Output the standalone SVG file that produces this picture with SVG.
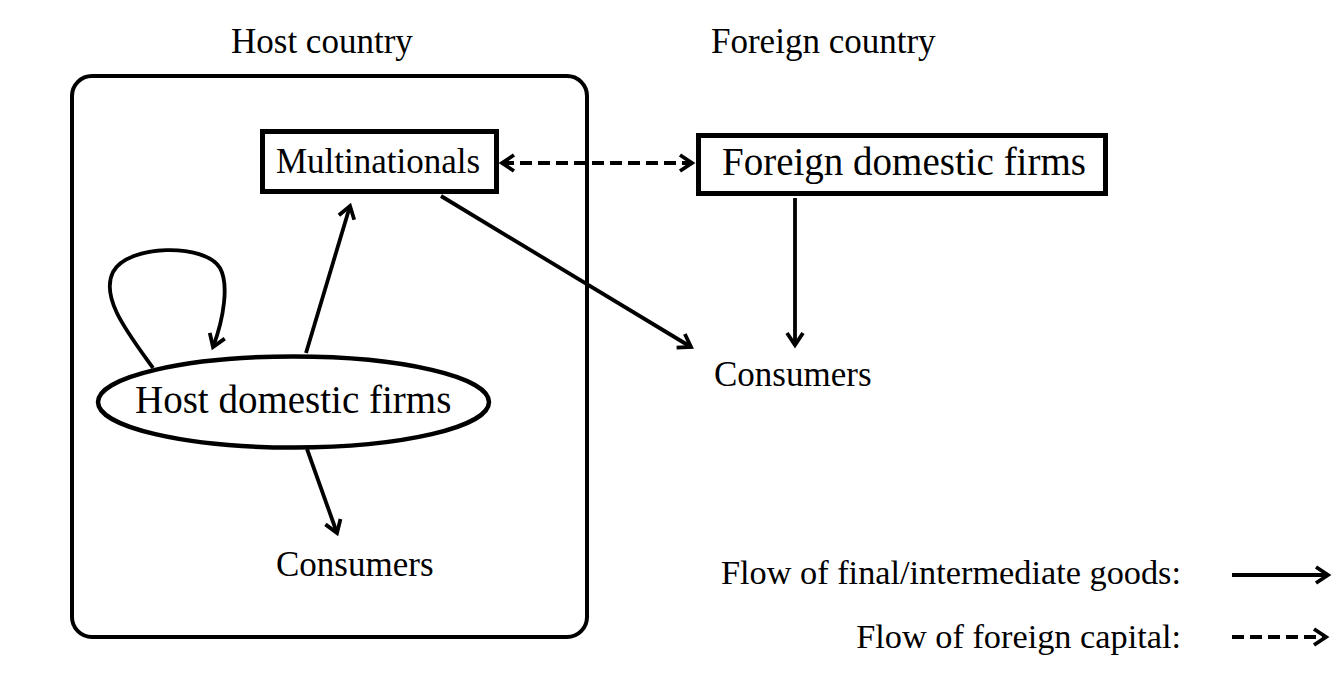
<svg xmlns="http://www.w3.org/2000/svg" width="1342" height="676" viewBox="0 0 1342 676">
<defs>
<style>
text{font-family:"Liberation Serif","Times New Roman",serif;fill:#000}
.t35{font-size:35px}
.t39{font-size:39px}
.leg{font-size:34.3px}
.edge{fill:none;stroke:#000;stroke-width:3.8}
.dash{stroke-dasharray:12 6}
.box{fill:#fff;stroke:#000;stroke-width:5}
</style>
<marker id="ah" viewBox="0 0 20 20" refX="15" refY="10" markerWidth="20" markerHeight="20" markerUnits="userSpaceOnUse" orient="auto-start-reverse">
<path d="M3,2 L15,10 L3,18" fill="none" stroke="#000" stroke-width="3.8" stroke-dasharray="none"/>
</marker>
</defs>
<rect width="1342" height="676" fill="#fff"/>
<g id="host-region">
<rect x="72" y="76" width="515" height="561" rx="20" ry="20" fill="none" stroke="#000" stroke-width="4"/>
<text class="t35" x="231" y="53">Host country</text>
</g>
<g id="foreign-region">
<text class="t35" x="711" y="53">Foreign country</text>
</g>
<g id="connectors">
<line class="edge dash" x1="502" y1="163" x2="692" y2="163" marker-start="url(#ah)" marker-end="url(#ah)"/>
<line class="edge" x1="441" y1="196" x2="691" y2="347" marker-end="url(#ah)"/>
<line class="edge" x1="795" y1="198" x2="795" y2="345" marker-end="url(#ah)"/>
<line class="edge" x1="306" y1="353" x2="350" y2="206" marker-end="url(#ah)"/>
<line class="edge" x1="307" y1="449" x2="337" y2="533" marker-end="url(#ah)"/>
<path class="edge" d="M153,368 C128,333 100,298 113,272 C128,244 205,243 220,268 C229,284 224,318 213,347" marker-end="url(#ah)"/>
</g>
<g id="multinationals">
<rect class="box" x="262.5" y="131.5" width="234" height="60"/>
<text class="t35" x="276" y="173">Multinationals</text>
</g>
<g id="foreign-firms">
<rect class="box" x="698.5" y="135.5" width="407" height="58"/>
<text class="t39" x="722" y="175">Foreign domestic firms</text>
</g>
<g id="host-firms">
<ellipse cx="293.5" cy="402" rx="195.5" ry="45.5" fill="#fff" stroke="#000" stroke-width="4.5"/>
<text class="t39" x="135" y="413">Host domestic firms</text>
</g>
<g id="consumers-foreign">
<text class="t35" x="714" y="386">Consumers</text>
</g>
<g id="consumers-host">
<text class="t35" x="276" y="576">Consumers</text>
</g>
<g id="legend">
<text class="leg" x="1181" y="584" text-anchor="end">Flow of final/intermediate goods:</text>
<text class="leg" x="1181" y="648" text-anchor="end">Flow of foreign capital:</text>
<line class="edge" x1="1232" y1="575" x2="1328" y2="575" marker-end="url(#ah)"/>
<line class="edge dash" x1="1232" y1="637" x2="1326" y2="637" marker-end="url(#ah)"/>
</g>
</svg>
